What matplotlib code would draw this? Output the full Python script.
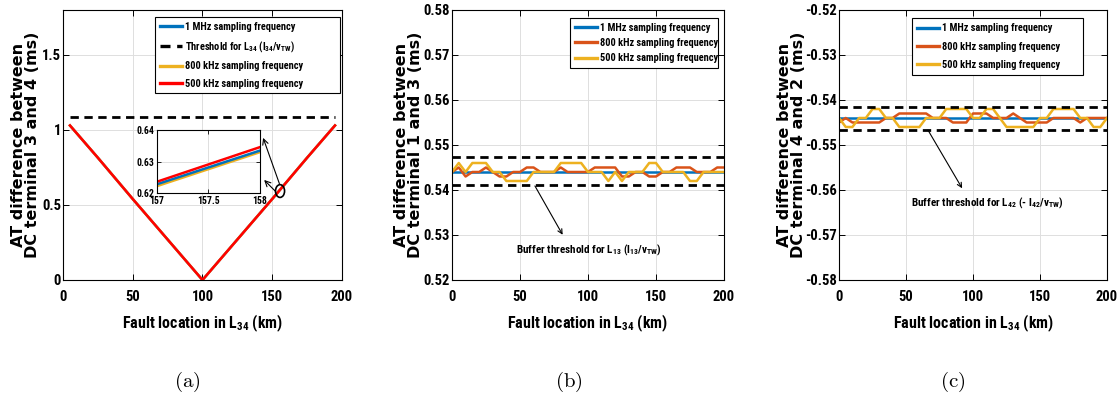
import matplotlib
matplotlib.use("Agg")
import matplotlib.pyplot as plt
from matplotlib import font_manager
from matplotlib.patches import Ellipse

# narrow sans if the machine has one, else plain Liberation Sans at smaller sizes
names = {f.name for f in font_manager.fontManager.ttflist}
SANS = "Liberation Sans"
SCALE = 0.9
for cand in ["Liberation Sans Narrow", "Arial Narrow", "Roboto Condensed"]:
    if cand in names:
        SANS, SCALE = cand, 1.0
        break

plt.rcParams["font.family"] = [SANS, "DejaVu Sans"]
plt.rcParams["font.weight"] = "bold"
plt.rcParams["axes.labelweight"] = "bold"
plt.rcParams["mathtext.fontset"] = "custom"
plt.rcParams["mathtext.rm"] = SANS + ":bold"
plt.rcParams["mathtext.it"] = SANS + ":bold"
plt.rcParams["mathtext.bf"] = SANS + ":bold"
plt.rcParams["mathtext.default"] = "rm"

BLUE = "#0072BD"
ORANGE = "#D95319"
YELLOW = "#EDB120"
RED = "#FF0000"

# (a) AT difference between terminal 3 and 4
x_a = [5, 25, 50, 75, 100, 125, 150, 175, 195]
a_1mhz = [1.03, 0.815, 0.54, 0.27, 0.0, 0.27, 0.54, 0.815, 1.03]
a_800k = [1.03, 0.815, 0.54, 0.27, 0.0, 0.27, 0.54, 0.815, 1.03]
a_500k = [1.03, 0.815, 0.54, 0.27, 0.0, 0.27, 0.54, 0.815, 1.03]
a_thr_x = [5, 195]
a_thr = [1.087, 1.087]

# zoomed inset of (a)
in_x = [157, 158]
in_1mhz = [0.6228, 0.6335]
in_800k = [0.6222, 0.6330]
in_500k = [0.6236, 0.6346]

# (b) and (c) share the fault location grid
x_bc = [0, 5, 10, 15, 20, 25, 30, 35, 40, 45, 50, 55, 60, 65, 70, 75, 80, 85, 90, 95, 100,
        105, 110, 115, 120, 125, 130, 135, 140, 145, 150, 155, 160, 165, 170, 175, 180,
        185, 190, 195, 200]
flat_x = [0, 200]

b_1mhz = [0.544, 0.544]
b_800k = [0.544, 0.545, 0.543, 0.544, 0.544, 0.545, 0.544, 0.543, 0.543, 0.544, 0.544,
          0.545, 0.545, 0.544, 0.544, 0.544, 0.545, 0.544, 0.544, 0.544, 0.544,
          0.545, 0.545, 0.545, 0.545, 0.543, 0.543, 0.544, 0.544, 0.543, 0.543,
          0.544, 0.544, 0.545, 0.545, 0.545, 0.544, 0.544, 0.544, 0.545, 0.545]
b_500k = [0.544, 0.546, 0.544, 0.546, 0.546, 0.546, 0.544, 0.544, 0.542, 0.542, 0.542,
          0.542, 0.544, 0.544, 0.544, 0.544, 0.546, 0.546, 0.546, 0.546, 0.544,
          0.544, 0.544, 0.542, 0.544, 0.542, 0.544, 0.544, 0.544, 0.546, 0.546,
          0.544, 0.544, 0.544, 0.544, 0.542, 0.542, 0.544, 0.544, 0.544, 0.544]
b_thr_hi = [0.5473, 0.5473]
b_thr_lo = [0.5410, 0.5410]

c_1mhz = [-0.544, -0.544]
c_800k = [-0.545, -0.544, -0.545, -0.545, -0.545, -0.545, -0.545, -0.544, -0.544, -0.543, -0.543,
          -0.543, -0.543, -0.543, -0.544, -0.544, -0.544, -0.545, -0.545, -0.545, -0.543,
          -0.543, -0.543, -0.544, -0.544, -0.544, -0.543, -0.544, -0.545, -0.545, -0.545,
          -0.545, -0.544, -0.544, -0.544, -0.544, -0.545, -0.544, -0.544, -0.544, -0.544]
c_500k = [-0.544, -0.546, -0.546, -0.544, -0.544, -0.542, -0.542, -0.544, -0.544, -0.546, -0.546,
          -0.546, -0.546, -0.544, -0.544, -0.544, -0.542, -0.542, -0.542, -0.542, -0.544,
          -0.544, -0.542, -0.542, -0.544, -0.546, -0.546, -0.546, -0.546, -0.546, -0.544,
          -0.544, -0.542, -0.542, -0.542, -0.542, -0.544, -0.544, -0.546, -0.546, -0.544]
c_thr_hi = [-0.5416, -0.5416]
c_thr_lo = [-0.5466, -0.5466]

xticks = [0, 50, 100, 150, 200]
lab_1m = "1 MHz sampling frequency"
lab_800 = "800 kHz sampling frequency"
lab_500 = "500 kHz sampling frequency"
DASH = (0, (3, 2))
FS_TICK = 10 * SCALE + 0.5
FS_XLAB = 11.5 * SCALE
FS_LEG = 7.5 * SCALE
FS_NOTE = 8 * SCALE


def style(ax, ylim, yticks, yticklabels):
    ax.set_xlim(0, 200)
    ax.set_ylim(*ylim)
    ax.set_xticks(xticks)
    ax.set_yticks(yticks)
    ax.set_yticklabels(yticklabels)
    ax.grid(True, color="#dedede", lw=0.7)
    ax.set_axisbelow(True)
    ax.tick_params(direction="in", length=4, width=0.7, top=True, right=True,
                   labelsize=FS_TICK)
    ax.tick_params(axis="x", pad=7)
    ax.tick_params(axis="y", pad=1.5)
    for s in ax.spines.values():
        s.set_linewidth(0.8)
    ax.set_xlabel("Fault location in L$_{34}$ (km)", fontsize=FS_XLAB)
    ax.xaxis.set_label_coords(0.5, -0.12)


def ylab(ax, text, xpos):
    ax.set_ylabel(text, family=["DejaVu Sans"], fontsize=11.5,
                  fontweight="bold", linespacing=0.9)
    ax.yaxis.set_label_coords(xpos, 0.5)


def legend(ax, x0, w, top, spacing, pad):
    leg = ax.legend(loc="upper left", bbox_to_anchor=(x0, 0, w, top), mode="expand",
                    borderaxespad=0, fontsize=FS_LEG, handlelength=2.1, handletextpad=0.3,
                    labelspacing=spacing, borderpad=pad, fancybox=False, framealpha=1)
    leg.get_frame().set_edgecolor("black")
    leg.get_frame().set_linewidth(0.8)
    for ln in leg.get_lines():
        ln.set_linewidth(2.4)


fig = plt.figure(figsize=(11.19, 3.98), dpi=100)

# ---------- (a)
ax1 = fig.add_axes([0.0563, 0.2965, 0.2493, 0.6784])
ax1.plot(x_a, a_1mhz, color=BLUE, lw=1.8, label=lab_1m)
ax1.plot(a_thr_x, a_thr, color="black", lw=2, ls=DASH,
         label="Threshold for L$_{34}$ (l$_{34}$/v$_{TW}$)")
ax1.plot(x_a, a_800k, color=YELLOW, lw=1.8, label=lab_800)
ax1.plot(x_a, a_500k, color=RED, lw=1.8, label=lab_500)
style(ax1, (0, 1.8), [0, 0.5, 1, 1.5], ["0", "0.5", "1", "1.5"])
ylab(ax1, "AT difference between\nDC terminal 3 and 4 (ms)", -0.082)
legend(ax1, 0.33, 0.663, 0.974, 0.7, 0.45)

ax1.add_patch(Ellipse((155.6, 0.593), 6.5, 0.085, fill=False, lw=1.2, ec="black", zorder=5))
ax1.annotate("", xy=(142.8, 0.965), xytext=(155.8, 0.625),
             arrowprops=dict(arrowstyle="->", lw=0.8, color="black"))
ax1.annotate("", xy=(142.8, 0.68), xytext=(153.5, 0.58),
             arrowprops=dict(arrowstyle="->", lw=0.8, color="black"))

axi = fig.add_axes([0.1403, 0.515, 0.092, 0.158])
axi.plot(in_x, in_800k, color=YELLOW, lw=1.8)
axi.plot(in_x, in_1mhz, color=BLUE, lw=1.8)
axi.plot(in_x, in_500k, color=RED, lw=1.8)
axi.set_xlim(157, 158)
axi.set_ylim(0.62, 0.64)
axi.set_xticks([157, 157.5, 158])
axi.set_xticklabels(["157", "157.5", "158"])
axi.set_yticks([0.62, 0.63, 0.64])
axi.set_yticklabels(["0.62", "0.63", "0.64"])
axi.grid(True, color="#dedede", lw=0.7)
axi.tick_params(direction="in", length=3, width=0.6, top=True, right=True,
                labelsize=7 * SCALE, pad=2)

# ---------- (b)
ax2 = fig.add_axes([0.4039, 0.2965, 0.2431, 0.6784])
ax2.plot(flat_x, b_1mhz, color=BLUE, lw=1.8, label=lab_1m)
ax2.plot(x_bc, b_800k, color=ORANGE, lw=1.8, label=lab_800)
ax2.plot(x_bc, b_500k, color=YELLOW, lw=1.8, label=lab_500)
ax2.plot(flat_x, b_thr_hi, color="black", lw=2, ls=DASH)
ax2.plot(flat_x, b_thr_lo, color="black", lw=2, ls=DASH)
style(ax2, (0.52, 0.58), [0.52, 0.53, 0.54, 0.55, 0.56, 0.57, 0.58],
      ["0.52", "0.53", "0.54", "0.55", "0.56", "0.57", "0.58"])
ylab(ax2, "AT difference between\nDC terminal 1 and 3 (ms)", -0.107)
legend(ax2, 0.434, 0.544, 0.970, 0.5, 0.45)
ax2.annotate("Buffer threshold for L$_{13}$ (l$_{13}$/v$_{TW}$)", xy=(61, 0.5409),
             xytext=(47, 0.5267), fontsize=FS_NOTE, va="center", ha="left",
             arrowprops=dict(arrowstyle="<-", lw=0.8, color="black",
                             relpos=(0.35, 1.0), shrinkA=4, shrinkB=0))

# ---------- (c)
ax3 = fig.add_axes([0.7498, 0.2965, 0.2395, 0.6784])
ax3.plot(flat_x, c_1mhz, color=BLUE, lw=1.8, label=lab_1m)
ax3.plot(x_bc, c_800k, color=ORANGE, lw=1.8, label=lab_800)
ax3.plot(x_bc, c_500k, color=YELLOW, lw=1.8, label=lab_500)
ax3.plot(flat_x, c_thr_hi, color="black", lw=2, ls=DASH)
ax3.plot(flat_x, c_thr_lo, color="black", lw=2, ls=DASH)
style(ax3, (-0.58, -0.52), [-0.58, -0.57, -0.56, -0.55, -0.54, -0.53, -0.52],
      ["-0.58", "-0.57", "-0.56", "-0.55", "-0.54", "-0.53", "-0.52"])
ylab(ax3, "AT difference between\nDC terminal 4 and 2 (ms)", -0.123)
legend(ax3, 0.272, 0.638, 0.970, 0.8, 0.5)
ax3.annotate("Buffer threshold for L$_{42}$ (- l$_{42}$/v$_{TW}$)", xy=(66.4, -0.5467),
             xytext=(53.7, -0.5627), fontsize=FS_NOTE, va="center", ha="left",
             arrowprops=dict(arrowstyle="<-", lw=0.8, color="black",
                             relpos=(0.36, 1.0), shrinkA=3, shrinkB=0))

# sub-figure captions in Computer Modern
for xc, tag in [(0.167, "(a)"), (0.5085, "(b)"), (0.8517, "(c)")]:
    fig.text(xc, 0.04, r"$\mathrm{" + tag + "}$", math_fontfamily="cm", fontsize=15,
             ha="center", va="center")

fig.savefig("out.png", dpi=100)
plt.close(fig)
